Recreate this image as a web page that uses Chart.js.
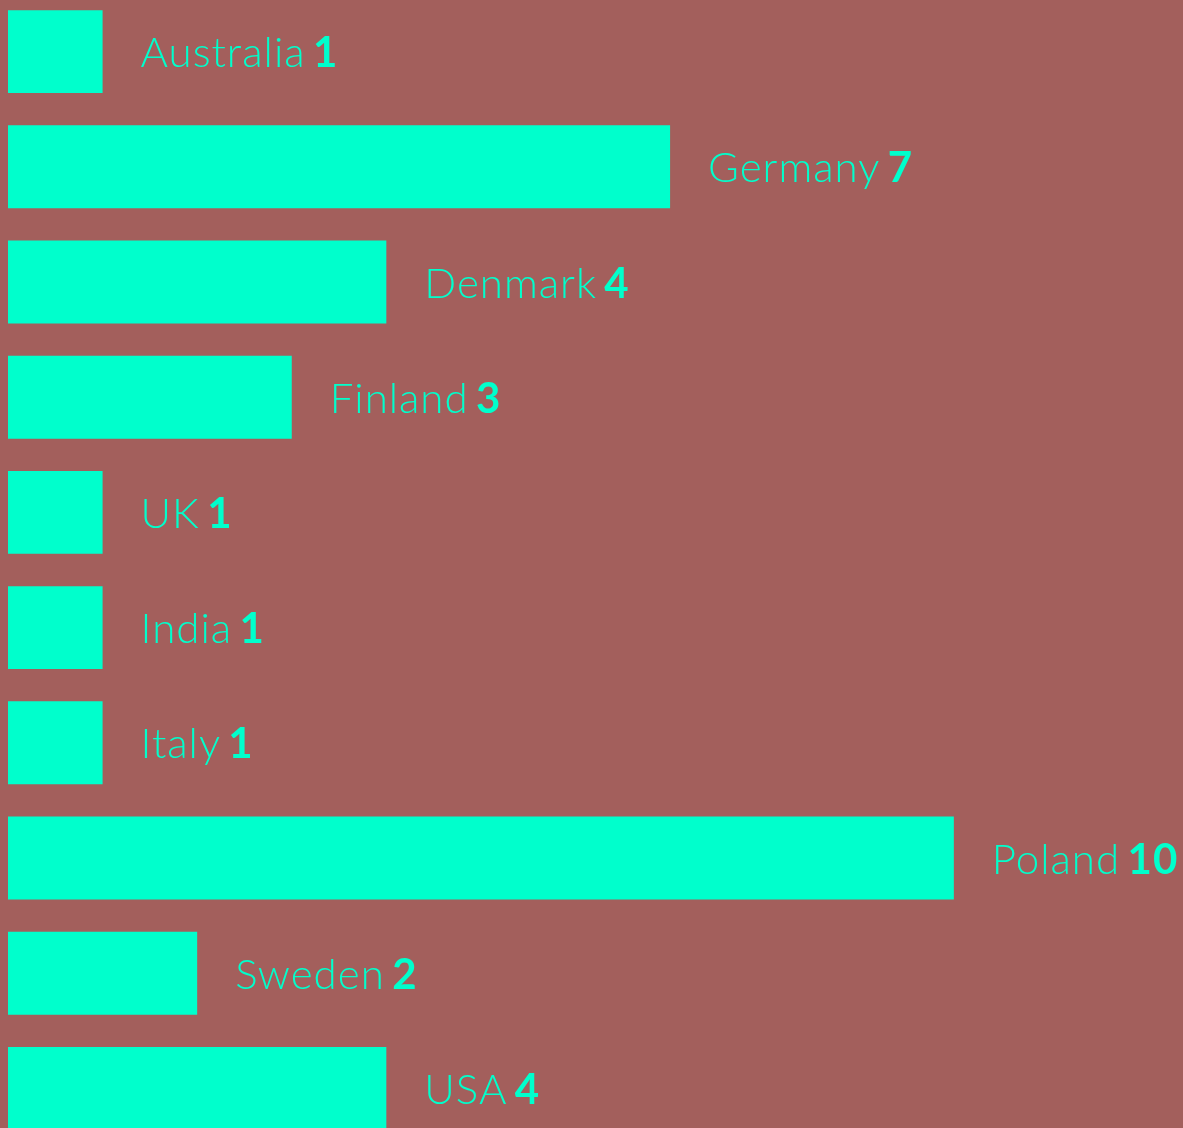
<!DOCTYPE html>
<html>
<head>
<meta charset="utf-8">
<script src="https://cdn.jsdelivr.net/npm/chart.js@4"></script>
<style>
  html, body { margin: 0; padding: 0; background: #a35f5c; overflow: hidden; }
  #wrap { position: relative; width: 1183px; height: 1152px; margin-top: -6px; }
</style>
</head>
<body>
<div id="wrap"><canvas id="grafico-paises"></canvas></div>
<script>
// Dados do gráfico
let paises = ["Australia", "Germany", "Denmark", "Finland", "UK", "India", "Italy", "Poland", "Sweden", "USA"];
let valores = [1, 7, 4, 3, 1, 1, 1, 10, 2, 4];

const corBarra = "#00ffcc";

// Plugin para escrever "País valor" ao lado de cada barra
const rotulosBarras = {
    id: "rotulosBarras",
    afterDatasetsDraw(chart) {
        const ctx = chart.ctx;
        const meta = chart.getDatasetMeta(0);
        ctx.save();
        ctx.textBaseline = "middle";
        ctx.fillStyle = corBarra;
        ctx.letterSpacing = "1px";
        meta.data.forEach((bar, i) => {
            let x = bar.x + 38;
            let y = bar.y + 2;
            ctx.font = "300 42px Lato";
            let nome = paises[i] + " ";
            ctx.fillText(nome, x, y);
            let w = ctx.measureText(nome).width;
            ctx.font = "bold 42px Lato";
            ctx.fillText(String(valores[i]), x + w - 5, y);
        });
        ctx.restore();
    }
};

const configPaises = {
    type: "bar",
    data: {
        labels: paises,
        datasets: [{
            label: "",
            data: valores,
            backgroundColor: corBarra,
            borderWidth: 0,
            categoryPercentage: 0.72,
            barPercentage: 1
        }]
    },
    options: {
        indexAxis: "y",
        responsive: true,
        maintainAspectRatio: false,
        animation: false,
        layout: { padding: { left: 8, right: 40, top: 0, bottom: 0 } },
        scales: {
            x: { min: 0, max: 12, display: false },
            y: { display: false }
        },
        plugins: {
            legend: { display: false },
            tooltip: { enabled: false }
        }
    },
    plugins: [rotulosBarras]
};

let myChartPaises = new Chart(document.getElementById("grafico-paises"), configPaises);
</script>
</body>
</html>
